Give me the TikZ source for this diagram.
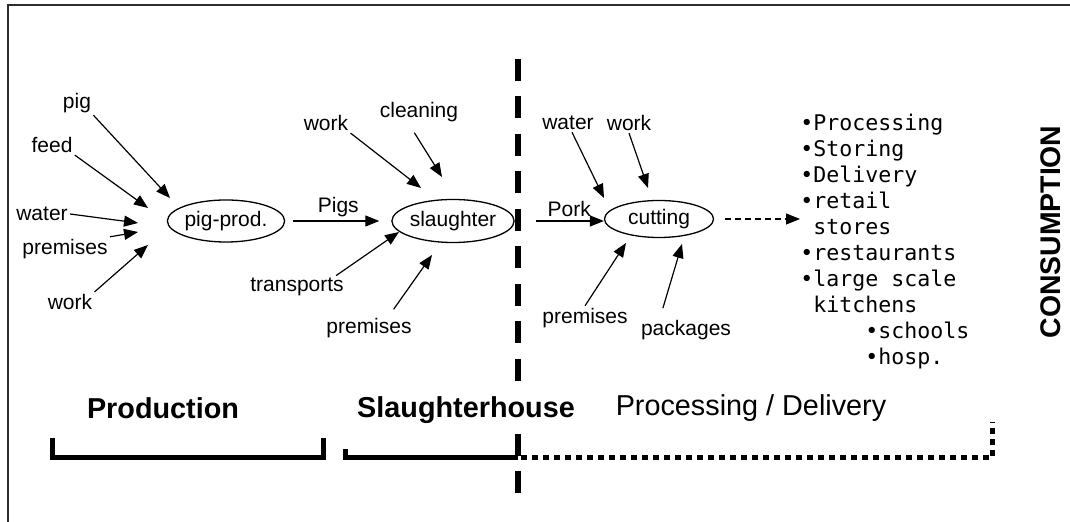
\documentclass[tikz,border=0pt]{standalone}
\usepackage{fontspec}
\setmainfont{Liberation Sans}
\newfontfamily\listfont{DejaVu Sans Mono}
\usetikzlibrary{arrows.meta, shapes.geometric}
\definecolor{inkc}{RGB}{0,0,0}
\definecolor{framec}{RGB}{45,45,45}

\begin{document}
\begin{tikzpicture}[x=0.5pt, y=-0.5pt, >={Triangle[length=7pt, width=5.5pt]},
    font=\fontsize{10.5}{12}\selectfont, inkc,
    proc/.style={draw, ellipse, line width=0.65pt, inner sep=0pt, minimum width=55pt, minimum height=21pt},
    lbl/.style={inner sep=1pt},
    feeds/.style={->, line width=0.6pt},
    phase/.style={font=\fontsize{14.4}{17}\selectfont, inner sep=1pt},
    bracket/.style={line width=2.5pt, line join=miter}]
  \useasboundingbox (0,0) rectangle (1070,522);

  % frame (only top and left edges show)
  \draw[framec, line width=1pt] (1070,5) -- (8,5) -- (8,522);

  % slaughterhouse / processing border
  \draw[line width=3pt, dash pattern=on 11pt off 7.75pt] (518,59) -- (518,493);

  % the three stages
  \node[proc] (pigprod)   at (226,221) {pig-prod.};
  \node[proc, minimum width=54pt, minimum height=21.5pt] (slaughter) at (453,221) {slaughter};
  \node[proc, minimum width=54.5pt, minimum height=18.5pt] (cutting) at (659,219) {cutting};

  % inputs to pig production
  \node[lbl] (ppig)      at (77,103)  {pig};
  \node[lbl] (pfeed)     at (52,145)  {feed};
  \node[lbl] (pwater)    at (42,214)  {water};
  \node[lbl] (ppremises) at (65,249)  {premises};
  \node[lbl] (pwork)     at (70,302)  {work};
  \coordinate (pp1) at (170,198);
  \coordinate (pp2) at (148,208);
  \coordinate (pp3) at (138,223);
  \coordinate (pp4) at (138,232);
  \coordinate (pp5) at (148,245);
  \draw[feeds] (ppig.south east) -- (pp1);
  \draw[feeds] (pfeed.south east) -- (pp2);
  \draw[feeds] (pwater.east) -- (pp3);
  \draw[feeds] (ppremises.north east) -- (pp4);
  \draw[feeds] (pwork.north east) -- (pp5);

  % inputs to slaughter
  \node[lbl] (swork)      at (326,123) {work};
  \node[lbl] (sclean)     at (419,112) {cleaning};
  \node[lbl] (stransp)    at (297,287) {transports};
  \node[lbl] (spremises)  at (369,328) {premises};
  \coordinate (sl1) at (421,188);
  \coordinate (sl2) at (442,177);
  \coordinate (sl3) at (399,232);
  \coordinate (sl4) at (432,255);
  \draw[feeds] (swork.south east) -- (sl1);
  \draw[feeds, shorten <=5pt] ([xshift=-5pt]sclean.south) -- (sl2);
  \draw[feeds] ([xshift=-5pt]stransp.north east) -- (sl3);
  \draw[feeds, shorten <=4pt] ([xshift=10pt]spremises.north) -- (sl4);

  % inputs to cutting
  \node[lbl] (cwater)    at (568,123) {water};
  \node[lbl] (cwork)     at (629,123) {work};
  \node[lbl] (cpremises) at (585,318) {premises};
  \node[lbl] (cpackages) at (686,330) {packages};
  \coordinate (cu1) at (604,198);
  \coordinate (cu2) at (648,188);
  \coordinate (cu3) at (626,243);
  \coordinate (cu4) at (682,244);
  \draw[feeds] ([xshift=2pt]cwater.south) -- (cu1);
  \draw[feeds] (cwork.south) -- (cu2);
  \draw[feeds] (cpremises.north) -- (cu3);
  \draw[feeds, shorten <=5pt] ([xshift=-13pt]cpackages.north) -- (cu4);

  % main flow
  \draw[feeds, shorten <=4pt, shorten >=6pt] (pigprod) -- node[lbl, above=1pt] {Pigs} (slaughter);
  \draw[feeds, shorten <=10.5pt] (slaughter.east) -- node[lbl, above=1pt, xshift=5pt] {Pork} (slaughter.east -| cutting.west);

  % outlets after cutting
  \node[anchor=north west, inner sep=0pt, align=left, font=\listfont\fontsize{10.8}{13}\selectfont]
    (outlets) at (800,114) {•Processing\\•Storing\\•Delivery\\•retail\\~stores\\•restaurants\\•large scale\\~kitchens\\~~~~~•schools\\~~~~~•hosp.};
  \draw[feeds, dash pattern=on 3pt off 2pt, shorten <=5.5pt] (cutting.east) -- (cutting.east -| outlets.west);
  \node[rotate=90, inner sep=0pt, font=\fontsize{14.2}{17}\selectfont\bfseries] (consumption) at (1051,232) {CONSUMPTION};

  % stage names and brackets
  \node[phase, font=\fontsize{14.4}{17}\selectfont\bfseries] (production) at (163,408) {Production};
  \node[phase, font=\fontsize{14.4}{17}\selectfont\bfseries, fill=white] (slaughterhouse) at (466,410) {Slaughterhouse};
  \node[phase] (delivery) at (751,408) {Processing / Delivery};
  \draw[bracket] (52,438) -- (52,458) -- (323,458) -- (323,438);
  \draw[bracket] (345,449) -- (345,458) -- (518,458);
  \draw[bracket, dash pattern=on 3pt off 2.5pt] (521,458) -- (992,458) -- (992,422);

\end{tikzpicture}
\end{document}
